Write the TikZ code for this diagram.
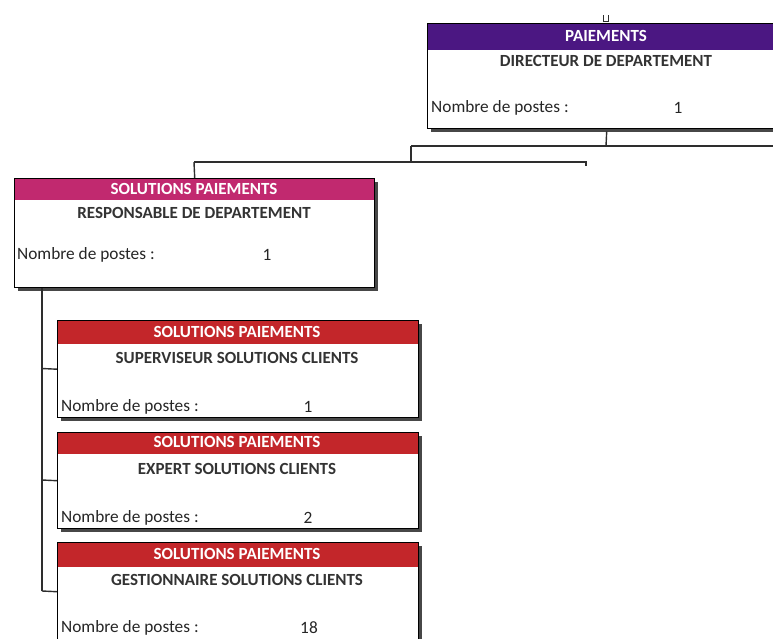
\documentclass[tikz,border=0pt]{standalone}
\usepackage{fontspec}
\setmainfont{Carlito}
\usetikzlibrary{shadows}

\definecolor{hdrpurple}{HTML}{4B1782}
\definecolor{hdrmagenta}{HTML}{C1296F}
\definecolor{hdrred}{HTML}{C3262A}
\definecolor{titlegray}{HTML}{333333}
\definecolor{linegray}{HTML}{2E2E2E}

\tikzset{
  orgbox/.style n args={2}{draw=black, line width=1.4pt, fill=white, rectangle,
    inner sep=0pt, minimum width=#1, minimum height=#2, anchor=north west,
    drop shadow={shadow xshift=3pt, shadow yshift=-3pt, fill=black!72, opacity=1}},
  hdr/.style 2 args={path picture={
    \fill[#1] (path picture bounding box.north west) rectangle
      ([yshift=-#2]path picture bounding box.north east);}},
  hdrtxt/.style={text=white, font=\fontsize{17}{19}\selectfont\bfseries, inner sep=0pt},
  titletxt/.style={text=titlegray, font=\fontsize{17}{19}\selectfont\bfseries, inner sep=0pt},
  cnttxt/.style={text=black!85, font=\fontsize{17.3}{19}\selectfont, inner sep=0pt},
  lbltxt/.style={cnttxt, anchor=west},
  link/.style={draw=linegray, line width=1.4pt},
}

\begin{document}
\begin{tikzpicture}[x=1pt, y=-1pt]
\useasboundingbox (0,0) rectangle (773,638);

% department head
\node[orgbox={358pt}{105pt}, hdr={hdrpurple}{26pt}] (dir) at (427,23) {};
\node[hdrtxt] (dir-h) at (606,36) {PAIEMENTS};
\node[titletxt] (dir-t) at (606,61) {DIRECTEUR DE DEPARTEMENT};
\node[lbltxt] (dir-l) at (431,108) {Nombre de postes :};
\node[cnttxt] (dir-n) at (678,108) {1};

% department manager
\node[orgbox={360pt}{109pt}, hdr={hdrmagenta}{21pt}] (resp) at (14,178) {};
\node[hdrtxt] (resp-h) at (194,189) {SOLUTIONS PAIEMENTS};
\node[titletxt] (resp-t) at (194,213) {RESPONSABLE DE DEPARTEMENT};
\node[lbltxt] (resp-l) at (17,255) {Nombre de postes :};
\node[cnttxt] (resp-n) at (267,255) {1};

% teams
\node[orgbox={361pt}{97pt}, hdr={hdrred}{23pt}] (sup) at (57,320) {};
\node[hdrtxt] (sup-h) at (237,332) {SOLUTIONS PAIEMENTS};
\node[titletxt] (sup-t) at (237,358) {SUPERVISEUR SOLUTIONS CLIENTS};
\node[lbltxt] (sup-l) at (61,407) {Nombre de postes :};
\node[cnttxt] (sup-n) at (308,407) {1};

\node[orgbox={361pt}{96pt}, hdr={hdrred}{21pt}] (exp) at (57,432) {};
\node[hdrtxt] (exp-h) at (237,442) {SOLUTIONS PAIEMENTS};
\node[titletxt] (exp-t) at (237,469) {EXPERT SOLUTIONS CLIENTS};
\node[lbltxt] (exp-l) at (61,518) {Nombre de postes :};
\node[cnttxt] (exp-n) at (308,518) {2};

\node[orgbox={361pt}{98pt}, hdr={hdrred}{24pt}] (gest) at (57,542) {};
\node[hdrtxt] (gest-h) at (237,554) {SOLUTIONS PAIEMENTS};
\node[titletxt] (gest-t) at (237,580) {GESTIONNAIRE SOLUTIONS CLIENTS};
\node[lbltxt] (gest-l) at (61,628) {Nombre de postes :};
\node[cnttxt] (gest-n) at (309,628) {18};

% junction points of the connectors
\coordinate (topstub) at (606,15);
\coordinate (j1) at (606,146);
\coordinate (j1r) at (775,146);
\coordinate (j2) at (411,146);
\coordinate (j3) at (411,162);
\coordinate (j3l) at (194,162);
\coordinate (j3r) at (586,162);
\coordinate (j3t) at (586,166);
\coordinate (v0) at (42,287);
\coordinate (vs) at (42,368.5);
\coordinate (ve) at (42,480);
\coordinate (vg) at (42,591);

% connectors
\draw[link, line width=1pt] ([xshift=-2.5pt]topstub) -- ++(0,6) -- ++(5,0) -- ++(0,-6);
\draw[link] (dir.south) ++(0,2) -- (j1);
\draw[link] (j2) -- (j1r);
\draw[link] (j2) -- (j3);
\draw[link] (j3l) -- (j3r) -- (j3t);
\draw[link] (j3l) -- (resp.north);
\draw[link] ([yshift=-1pt]v0) -- (vg);
\draw[link] (vs) -- (sup.west);
\draw[link] (ve) -- (exp.west);
\draw[link] (vg) -- (gest.west);
\end{tikzpicture}
\end{document}
